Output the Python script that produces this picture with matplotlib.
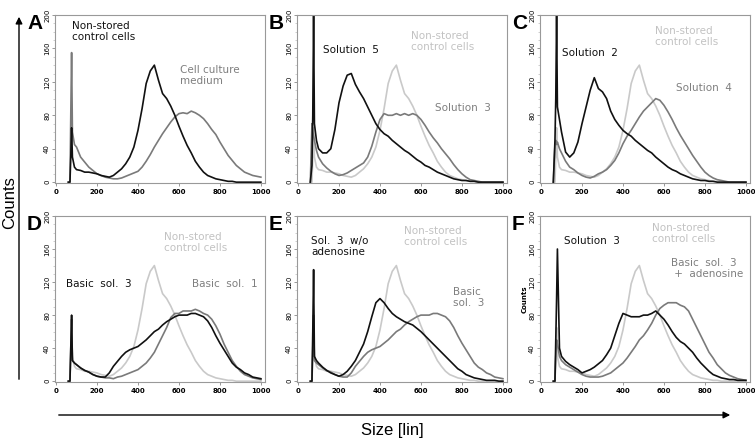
import numpy as np
import matplotlib
matplotlib.use('Agg')
import matplotlib.pyplot as plt

# channel positions (size, linear scale)
size = [60, 68, 72, 76, 80, 90] + list(range(100, 1001, 20))

control = [0, 0, 30, 65, 30, 18,
           15, 14, 12, 12, 11, 10, 8, 7, 6, 8, 12, 16, 22, 30, 42, 62, 88, 118, 133, 140,
           122, 106, 100, 91, 80, 67, 55, 44, 35, 25, 18, 12, 8, 6, 4, 3, 2, 1, 1, 0,
           0, 0, 0, 0, 0, 0]
medium = [0, 0, 80, 155, 60, 45,
          42, 30, 24, 18, 14, 10, 8, 6, 5, 4, 4, 5, 7, 9, 11, 13, 18, 25, 33, 42,
          50, 58, 65, 72, 78, 82, 83, 82, 85, 83, 80, 76, 70, 63, 57, 48, 40, 32, 26, 20,
          16, 12, 10, 8, 7, 6]
sol5 = [0, 20, 80, 200, 70, 50,
        40, 35, 35, 40, 63, 95, 115, 128, 130, 117, 108, 100, 90, 80, 70, 63, 58, 55, 50, 46,
        42, 38, 35, 31, 27, 24, 20, 18, 15, 12, 10, 8, 6, 4, 3, 2, 2, 1, 1, 0,
        0, 0, 0, 0, 0, 0]
sol3_b = [0, 70, 60, 55, 50, 38,
          30, 22, 17, 13, 10, 8, 9, 11, 14, 17, 20, 23, 30, 43, 60, 75, 82, 80, 80, 82,
          80, 82, 80, 82, 80, 75, 68, 60, 53, 47, 40, 34, 28, 21, 15, 10, 6, 3, 2, 1,
          0, 0, 0, 0, 0, 0]
sol2 = [0, 50, 100, 200, 90, 75,
        60, 36, 30, 35, 48, 70, 90, 110, 125, 112, 108, 100, 85, 75, 68, 62, 58, 55, 50, 46,
        42, 38, 35, 30, 26, 22, 18, 15, 13, 10, 8, 6, 4, 3, 2, 2, 1, 1, 0, 0,
        0, 0, 0, 0, 0, 0]
sol4 = [0, 45, 50, 45, 48, 40,
        35, 25, 18, 15, 11, 8, 6, 5, 7, 10, 12, 15, 20, 26, 35, 46, 55, 62, 70, 78,
        85, 90, 95, 100, 98, 92, 84, 75, 65, 56, 48, 40, 32, 25, 18, 12, 8, 5, 3, 2,
        1, 0, 0, 0, 0, 0]
basic3 = [0, 0, 40, 80, 25, 22,
          20, 16, 13, 11, 8, 6, 5, 5, 10, 18, 24, 30, 35, 38, 40, 42, 46, 50, 55, 60,
          63, 68, 72, 75, 78, 80, 80, 80, 82, 82, 80, 78, 73, 65, 55, 46, 38, 30, 22, 17,
          14, 10, 8, 5, 4, 3]
basic1 = [0, 0, 40, 75, 25, 22,
          20, 16, 13, 11, 8, 6, 5, 4, 4, 3, 5, 6, 8, 10, 12, 14, 18, 22, 28, 35,
          45, 55, 65, 77, 82, 82, 85, 85, 85, 87, 85, 82, 80, 75, 67, 57, 45, 35, 25, 18,
          12, 8, 6, 4, 3, 2]
sol3_no_ado = [0, 0, 60, 135, 30, 25,
               22, 17, 13, 10, 8, 6, 8, 12, 18, 25, 35, 45, 60, 78, 95, 100, 95, 88, 82, 78,
               75, 72, 70, 68, 64, 60, 55, 50, 45, 40, 35, 30, 25, 20, 15, 12, 8, 6, 4, 3,
               2, 1, 1, 1, 0, 0]
sol3_f = [0, 0, 50, 100, 160, 40,
          30, 24, 20, 17, 14, 10, 12, 14, 17, 21, 25, 32, 40, 55, 70, 82, 80, 78, 78, 78,
          80, 80, 82, 85, 80, 75, 68, 60, 53, 48, 45, 40, 35, 28, 22, 17, 12, 8, 6, 4,
          3, 2, 2, 1, 1, 1]
basic3_ado = [0, 0, 30, 50, 45, 30,
              25, 20, 17, 14, 11, 8, 6, 5, 5, 5, 6, 8, 10, 14, 18, 22, 28, 35, 42, 50,
              55, 62, 70, 80, 88, 92, 95, 95, 95, 92, 90, 85, 75, 65, 55, 45, 35, 28, 20, 15,
              10, 7, 5, 3, 2, 1]

BLACK = '#111111'
GRAY = '#7a7a7a'
LIGHT = '#c9c9c9'
TXT_GRAY = '#7f7f7f'
TXT_LIGHT = '#c2c2c2'

# panel: letter, (light, gray, black) series, labels
panels = [
    ('A', None, medium, control,
     [(80, 193, 'Non-stored\ncontrol cells', BLACK), (605, 140, 'Cell culture\nmedium', TXT_GRAY)]),
    ('B', control, sol3_b, sol5,
     [(550, 181, 'Non-stored\ncontrol cells', TXT_LIGHT), (122, 164, 'Solution  5', BLACK),
      (668, 95, 'Solution  3', TXT_GRAY)]),
    ('C', control, sol4, sol2,
     [(556, 187, 'Non-stored\ncontrol cells', TXT_LIGHT), (100, 161, 'Solution  2', BLACK),
      (658, 119, 'Solution  4', TXT_GRAY)]),
    ('D', control, basic1, basic3,
     [(528, 181, 'Non-stored\ncontrol cells', TXT_LIGHT), (47, 124, 'Basic  sol.  3', BLACK),
      (665, 124, 'Basic  sol.  1', TXT_GRAY)]),
    ('E', control, basic3, sol3_no_ado,
     [(519, 188, 'Non-stored\ncontrol cells', TXT_LIGHT), (63, 176, 'Sol.  3  w/o\nadenosine', BLACK),
      (754, 114, 'Basic\nsol.  3', TXT_GRAY)]),
    ('F', control, basic3_ado, sol3_f,
     [(541, 192, 'Non-stored\ncontrol cells', TXT_LIGHT), (112, 176, 'Solution  3', BLACK),
      (635, 149, 'Basic  sol.  3\n +  adenosine', TXT_GRAY)]),
]

W, H = 755, 440
fig = plt.figure(figsize=(W / 100, H / 100), dpi=100)

lefts = [55, 297, 540]
rows = [(15, 183), (216, 382)]

for i, (letter, light, gray, black, labels) in enumerate(panels):
    r, c = divmod(i, 3)
    top, bot = rows[r]
    l = lefts[c]
    ax = fig.add_axes([l / W, 1 - bot / H, 210 / W, (bot - top) / H])
    if light is not None:
        ax.plot(size, light, color=LIGHT, lw=1.2)
    ax.plot(size, gray, color=GRAY, lw=1.2)
    ax.plot(size, black, color=BLACK, lw=1.2)

    ax.set_xlim(-5, 1020)
    ax.set_ylim(-1, 200)
    ax.set_xticks(range(0, 1001, 200))
    ax.set_yticks(range(0, 201, 40))
    ax.set_yticks(range(0, 201, 10), minor=True)
    ax.tick_params(axis='x', labelsize=5, length=2, width=0.6, pad=2, colors='#888888',
                   labelcolor='black')
    ax.tick_params(axis='y', which='major', labelsize=5, length=2.5, width=0.6, pad=1,
                   colors='#888888', labelcolor='black', labelrotation=90)
    ax.tick_params(axis='y', which='minor', length=1.2, width=0.4, colors='#aaaaaa')
    for lab in ax.get_xticklabels():
        lab.set_fontweight('bold')
    for lab in ax.get_yticklabels():
        lab.set_va('center')
    for sp in ax.spines.values():
        sp.set_color('#999999')
        sp.set_linewidth(0.8)

    for x, y, txt, col in labels:
        ax.text(x, y, txt, color=col, fontsize=7.5, ha='left', va='top',
                family='DejaVu Sans', linespacing=1.15)

    fig.text((l - 28) / W, 1 - (top - 1) / H, letter, fontsize=15, fontweight='bold',
             family='Liberation Sans', ha='left', va='top')

    if letter == 'F':
        ax.set_ylabel('Counts', fontsize=5, fontweight='bold', labelpad=1)

# overall axis labels with arrows
fig.text(10 / W, 1 - 203 / H, 'Counts', rotation=90, fontsize=12, family='Liberation Sans',
         ha='center', va='center')
fig.text(392 / W, 1 - 430 / H, 'Size [lin]', fontsize=12, family='Liberation Sans',
         ha='center', va='center')
fig.patches.append(matplotlib.patches.FancyArrowPatch(
    (19 / W, 1 - 382 / H), (19 / W, 1 - 14 / H), transform=fig.transFigure,
    arrowstyle='-|>,head_length=4,head_width=2', lw=1, color='black'))
fig.patches.append(matplotlib.patches.FancyArrowPatch(
    (56 / W, 1 - 415 / H), (733 / W, 1 - 415 / H), transform=fig.transFigure,
    arrowstyle='-|>,head_length=4,head_width=2', lw=1, color='black'))

fig.savefig('out.png', dpi=100)
